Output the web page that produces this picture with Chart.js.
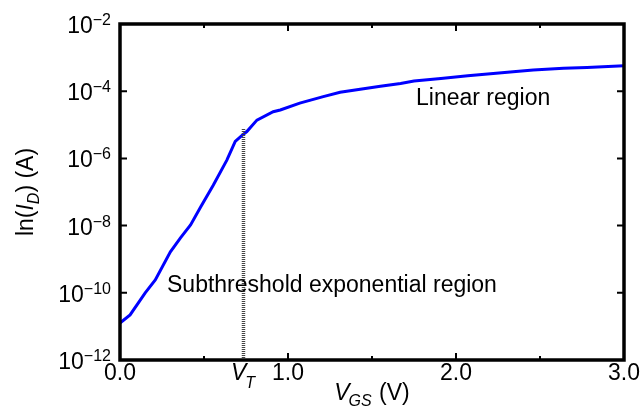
<!DOCTYPE html>
<html>
<head>
<meta charset="utf-8">
<script src="https://cdn.jsdelivr.net/npm/chart.js@4"></script>
<style>
  html, body { margin: 0; padding: 0; background: #fff; }
  #wrap { width: 644px; height: 408px; }
</style>
</head>
<body>
<div id="wrap"><canvas id="myChart"></canvas></div>
<script>
const vgs = [0, 0.06, 0.15, 0.21, 0.30, 0.36, 0.42, 0.48, 0.555, 0.636, 0.686, 0.73, 0.755, 0.815,
             0.912, 0.954, 1.07, 1.21, 1.31, 1.55, 1.67, 1.75, 1.91, 2.07, 2.34, 2.46, 2.64, 2.78, 3.0];
const idrain = [1.26e-11, 2.2e-11, 1.0e-10, 2.4e-10, 1.66e-9, 4.3e-9, 1.05e-8, 3.6e-8, 1.6e-7, 8.9e-7,
                3.2e-6, 5.0e-6, 6.3e-6, 1.38e-5, 2.45e-5, 2.75e-5, 4.4e-5, 6.9e-5, 9.3e-5, 1.41e-4,
                1.7e-4, 2.0e-4, 2.4e-4, 2.9e-4, 3.8e-4, 4.3e-4, 4.8e-4, 5.1e-4, 5.75e-4];
const vt = 0.735;
const vtTop = 7.5e-6;
const xMajor = [0, 1, 2, 3];
const xMajorLabels = ['0.0', '1.0', '2.0', '3.0'];
const xMinor = [0.5, 1.5, 2.5];
const yExp = [-2, -4, -6, -8, -10, -12];

const FONT = '"Liberation Sans", Arial, Helvetica, sans-serif';

// draws frame, inward ticks, labels, titles and notes
const frame = {
  id: 'frame',
  afterDatasetsDraw(chart) {
    const { ctx, chartArea: a, scales: { x, y } } = chart;
    ctx.save();
    ctx.strokeStyle = '#000';
    ctx.fillStyle = '#000';
    ctx.lineWidth = 2;
    ctx.beginPath();
    xMajor.forEach(v => {
      const px = x.getPixelForValue(v);
      ctx.moveTo(px, a.bottom); ctx.lineTo(px, a.bottom - 7);
      ctx.moveTo(px, a.top); ctx.lineTo(px, a.top + 7);
    });
    xMinor.forEach(v => {
      const px = x.getPixelForValue(v);
      ctx.moveTo(px, a.bottom); ctx.lineTo(px, a.bottom - 4);
      ctx.moveTo(px, a.top); ctx.lineTo(px, a.top + 4);
    });
    yExp.forEach(e => {
      const py = y.getPixelForValue(Math.pow(10, e));
      ctx.moveTo(a.left, py); ctx.lineTo(a.left + 7, py);
      ctx.moveTo(a.right, py); ctx.lineTo(a.right - 7, py);
    });
    ctx.stroke();

    ctx.lineWidth = 3.5;
    ctx.strokeRect(a.left, a.top, a.right - a.left, a.bottom - a.top);

    // y tick labels 10^n
    yExp.forEach(e => {
      const py = y.getPixelForValue(Math.pow(10, e));
      const sup = '\u2212' + (-e);
      ctx.font = '16px ' + FONT;
      const sw = ctx.measureText(sup).width;
      ctx.textAlign = 'left';
      ctx.textBaseline = 'alphabetic';
      ctx.fillText(sup, 111 - sw, py + 1);
      ctx.font = '23px ' + FONT;
      ctx.textAlign = 'right';
      ctx.fillText('10', 111 - sw, py + 9);
    });

    // x tick labels
    ctx.font = '23px ' + FONT;
    ctx.textAlign = 'center';
    xMajor.forEach((v, i) => {
      ctx.fillText(xMajorLabels[i], x.getPixelForValue(v), 380);
    });

    // V_T label
    ctx.textAlign = 'left';
    ctx.font = 'italic 23px ' + FONT;
    ctx.fillText('V', 231, 380);
    let w = ctx.measureText('V').width;
    ctx.font = 'italic 16px ' + FONT;
    ctx.fillText('T', 231 + w - 1, 388);

    // x title V_GS (V)
    const cx = (a.left + a.right) / 2;
    ctx.font = 'italic 23px ' + FONT;
    const w1 = ctx.measureText('V').width;
    ctx.font = 'italic 16px ' + FONT;
    const w2 = ctx.measureText('GS').width;
    ctx.font = '23px ' + FONT;
    const w3 = ctx.measureText(' (V)').width;
    let sx = cx - (w1 + w2 + w3) / 2;
    ctx.font = 'italic 23px ' + FONT;
    ctx.fillText('V', sx, 400);
    ctx.font = 'italic 16px ' + FONT;
    ctx.fillText('GS', sx + w1 - 1, 406);
    ctx.font = '23px ' + FONT;
    ctx.fillText(' (V)', sx + w1 + w2, 400);

    // y title ln(I_D) (A)
    ctx.save();
    ctx.translate(33, (a.top + a.bottom) / 2);
    ctx.rotate(-Math.PI / 2);
    const parts = [
      ['ln(', '23px ', 0],
      ['I', 'italic 23px ', 0],
      ['D', 'italic 16px ', 6],
      [') (A)', '23px ', 0]
    ];
    let tw = 0;
    parts.forEach(p => { ctx.font = p[1] + FONT; tw += ctx.measureText(p[0]).width; });
    let px = -tw / 2;
    parts.forEach(p => {
      ctx.font = p[1] + FONT;
      ctx.fillText(p[0], px, p[2]);
      px += ctx.measureText(p[0]).width;
    });
    ctx.restore();

    // region notes
    ctx.font = '23px ' + FONT;
    ctx.textAlign = 'left';
    ctx.fillText('Linear region', 416, 105);
    ctx.fillText('Subthreshold exponential region', 167, 292);
    ctx.restore();
  }
};

new Chart(document.getElementById('myChart'), {
  type: 'line',
  data: {
    datasets: [{
      label: 'VT',
      data: [{ x: vt, y: 1e-12 }, { x: vt, y: vtTop }],
      borderColor: '#444',
      borderWidth: 3.5,
      borderDash: [1, 1],
      pointRadius: 0
    }, {
      label: 'I_D',
      data: vgs.map((v, i) => ({ x: v, y: idrain[i] })),
      borderColor: '#0000ff',
      borderWidth: 3,
      pointRadius: 0,
      tension: 0
    }]
  },
  plugins: [frame],
  options: {
    responsive: true,
    maintainAspectRatio: false,
    animation: false,
    layout: { padding: { left: 120, right: 20, top: 24, bottom: 48 } },
    scales: {
      x: { type: 'linear', min: 0, max: 3, display: false },
      y: { type: 'logarithmic', min: 1e-12, max: 1e-2, display: false }
    },
    plugins: {
      legend: { display: false },
      tooltip: { enabled: false }
    }
  }
});
</script>
</body>
</html>
